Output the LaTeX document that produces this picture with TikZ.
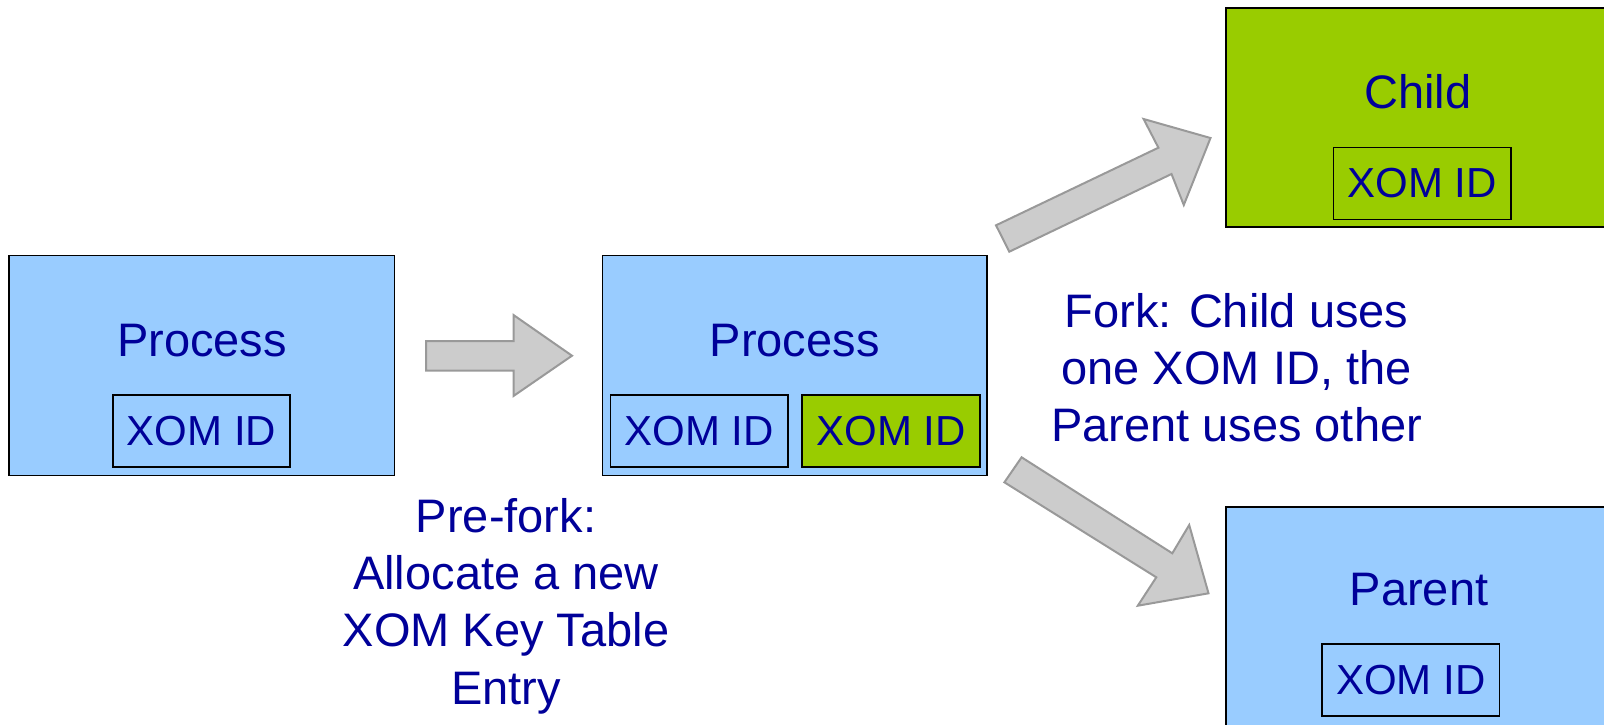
\documentclass[tikz,border=0pt]{standalone}
\usepackage{fontspec}
\setmainfont{Liberation Sans}
\definecolor{txtblue}{HTML}{000099}
\definecolor{procblue}{HTML}{99CCFF}
\definecolor{idgreen}{HTML}{99CC00}
\definecolor{arrowfill}{HTML}{CCCCCC}
\definecolor{arrowline}{HTML}{999999}
\tikzset{
  procbox/.style={draw=black, line width=1.8pt, inner sep=0pt},
  idbox/.style={draw=black, line width=1.8pt, inner sep=0pt,
    minimum width=177.5pt, minimum height=72pt, text=txtblue,
    font=\fontsize{42}{50}\selectfont},
  title/.style={text=txtblue, inner sep=0pt, anchor=base,
    font=\fontsize{47}{57.3}\selectfont},
  % multi-line notes are placed by the baseline of their last line
  note/.style={text=txtblue, inner sep=0pt, anchor=base, align=center,
    font=\fontsize{47}{57.3}\selectfont},
  blockarrow/.style={fill=arrowfill, draw=arrowline, line width=2pt, line join=miter}
}
\begin{document}
\begin{tikzpicture}[x=1pt,y=-1pt]
\useasboundingbox (0,0) rectangle (1604,724);

% first process
\node[procbox, fill=procblue, minimum width=385.5pt, minimum height=220pt] (p1) at (201.75,365.5) {};
\node[title] (p1t) at (202,356) {Process};
\node[idbox, fill=procblue] (p1id) at (201.5,431) {XOM ID};

% process after pre-fork
\node[procbox, fill=procblue, minimum width=384.5pt, minimum height=220pt] (p2) at (794.75,365.5) {};
\node[title] (p2t) at (794.7,356) {Process};
\node[idbox, fill=procblue] (p2ida) at (699.3,431) {XOM ID};
\node[idbox, fill=idgreen] (p2idb) at (891.1,431) {XOM ID};

% child
\node[procbox, fill=idgreen, minimum width=400pt, minimum height=219pt] (ch) at (1426,117.5) {};
\node[title] (cht) at (1418,108) {Child};
\node[idbox, fill=idgreen] (chid) at (1422.3,183.5) {XOM ID};

% parent
\node[procbox, fill=procblue, minimum width=400pt, minimum height=240pt] (pa) at (1426,626.7) {};
\node[title] (pat) at (1419,605.7) {Parent};
\node[idbox, fill=procblue] (paid) at (1410.7,680) {XOM ID};

% block arrows
\draw[blockarrow] (426,341) -- (513.5,341) -- (513.5,315) -- (572,355.7)
  -- (513.5,396) -- (513.5,370.7) -- (426,370.7) -- cycle;
\draw[blockarrow] (996,225.3) -- (1158.4,147.7) -- (1143.6,119) -- (1210.5,138)
  -- (1183.8,205) -- (1171.5,174) -- (1009.3,251.7) -- cycle;
\draw[blockarrow] (1021.6,457.3) -- (1172.3,553.3) -- (1189.2,525) -- (1208.5,593.3)
  -- (1137.8,605.7) -- (1156.3,577.3) -- (1004.4,482.3) -- cycle;

% notes
\node[note] (pre) at (506,704) {Pre-fork:\\Allocate a new\\XOM Key Table\\Entry};
\node[note] (fork) at (1236.5,441.7) {Fork: Child uses\\one XOM ID, the\\Parent uses other};
\end{tikzpicture}
\end{document}
